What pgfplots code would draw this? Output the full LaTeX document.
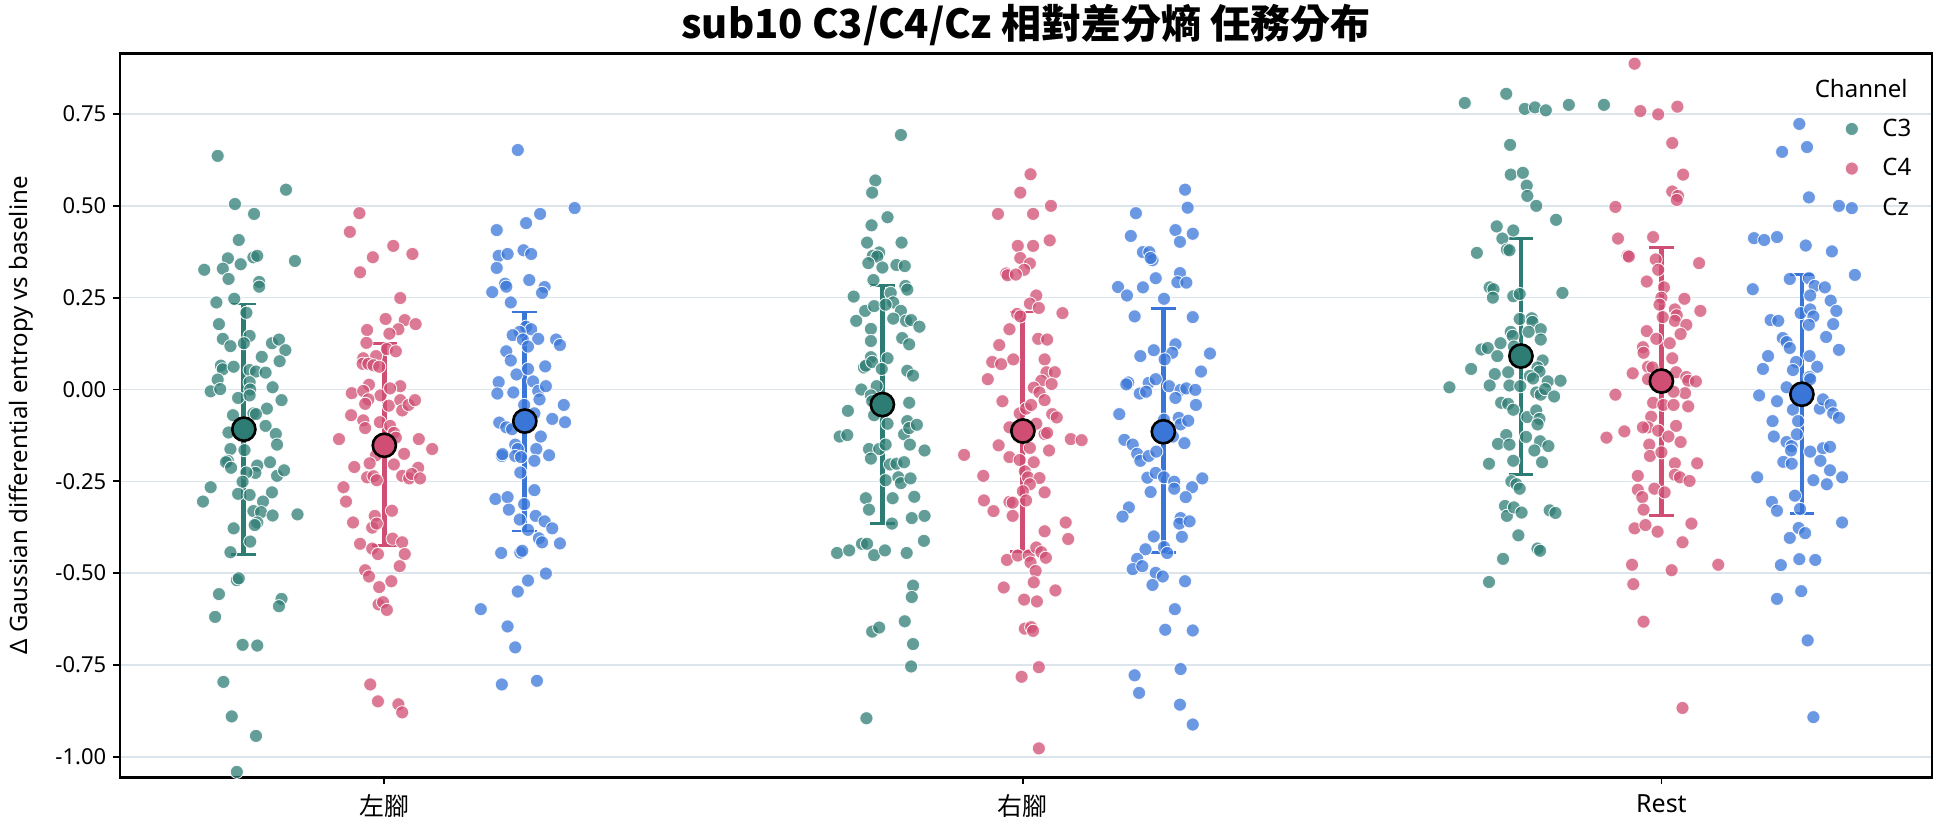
\documentclass[border=0pt]{standalone}
\usepackage{fontspec}
\setmainfont{Noto Sans}
\newfontfamily\cjk{Noto Sans CJK TC}
\usepackage{pgfplots}
\usepackage{pgfplotstable}
\pgfplotsset{compat=1.18}
\definecolor{cA}{RGB}{46,125,116}
\definecolor{cB}{RGB}{208,78,115}
\definecolor{cC}{RGB}{58,118,216}
\definecolor{gridc}{RGB}{221,229,236}
\pgfplotsset{pts/.style={only marks, mark=*, mark size=3.3pt, mark options={fill=#1, fill opacity=0.75, draw=white, draw opacity=0.9, line width=0.45pt}}}
\pgfplotsset{mn/.style={only marks, mark=*, mark size=5.8pt, mark options={fill=#1, draw=black, line width=1.3pt},
  error bars/y dir=both, error bars/y explicit, error bars/error bar style={draw=#1, line width=2.4pt}, error bars/error mark options={rotate=90, draw=#1, mark size=6.2pt, line width=1.4pt}}}

% 左腳 C3
\pgfplotstableread{
dx v
-0.041 0.636
0.066 0.544
-0.014 0.505
0.016 0.478
-0.008 0.407
-0.025 0.357
0.015 0.360
0.021 0.364
-0.062 0.326
-0.033 0.329
-0.005 0.341
0.080 0.350
-0.024 0.301
0.024 0.293
0.024 0.280
-0.043 0.237
-0.015 0.247
0.004 0.209
-0.039 0.178
-0.033 0.138
0.009 0.146
-0.021 0.118
0.000 0.126
0.044 0.126
0.055 0.136
0.065 0.107
0.028 0.089
0.056 0.077
-0.036 0.065
-0.033 0.055
-0.016 0.062
0.009 0.053
0.019 0.049
0.034 0.046
-0.041 0.027
-0.052 -0.005
-0.037 0.001
0.009 0.020
0.010 0.000
0.045 0.006
-0.009 -0.023
0.009 -0.016
0.036 -0.052
0.059 -0.029
-0.017 -0.070
0.015 -0.065
0.019 -0.067
0.034 -0.099
-0.024 -0.117
0.050 -0.121
0.052 -0.150
-0.021 -0.162
0.001 -0.165
-0.025 -0.194
-0.028 -0.198
-0.020 -0.213
0.041 -0.198
0.021 -0.207
0.018 -0.227
0.004 -0.226
0.052 -0.235
0.063 -0.220
-0.002 -0.251
-0.052 -0.266
-0.064 -0.305
-0.009 -0.284
0.009 -0.287
0.044 -0.280
0.030 -0.305
0.015 -0.331
0.027 -0.334
0.045 -0.343
0.084 -0.340
0.021 -0.362
0.017 -0.369
-0.016 -0.378
0.010 -0.414
-0.021 -0.443
-0.011 -0.519
-0.008 -0.514
-0.039 -0.557
0.059 -0.570
0.055 -0.590
-0.045 -0.619
-0.002 -0.695
0.021 -0.697
-0.032 -0.796
-0.019 -0.890
0.019 -0.943
-0.011 -1.041
}\tLA

% 左腳 C4
\pgfplotstableread{
dx v
-0.039 0.480
-0.054 0.429
0.014 0.391
-0.018 0.360
0.044 0.369
-0.038 0.319
0.025 0.249
0.002 0.192
-0.027 0.162
0.032 0.189
0.049 0.178
0.022 0.164
0.008 0.152
-0.028 0.127
0.004 0.110
0.018 0.104
-0.013 0.091
-0.033 0.085
-0.034 0.070
-0.025 0.070
-0.017 0.066
-0.008 0.062
-0.024 0.013
-0.051 -0.010
-0.033 -0.004
-0.006 -0.016
0.025 0.009
0.009 0.003
-0.025 -0.027
-0.030 -0.039
0.007 -0.044
0.025 -0.029
0.028 -0.057
0.038 -0.042
0.048 -0.029
-0.052 -0.070
-0.033 -0.084
-0.030 -0.105
-0.007 -0.089
0.009 -0.099
0.015 -0.118
0.018 -0.131
-0.071 -0.135
0.054 -0.135
0.075 -0.162
0.031 -0.175
-0.013 -0.179
-0.023 -0.201
-0.047 -0.211
0.015 -0.204
0.053 -0.213
-0.027 -0.239
-0.017 -0.236
-0.012 -0.247
0.028 -0.235
0.039 -0.242
0.043 -0.230
0.056 -0.242
-0.064 -0.266
-0.060 -0.305
-0.015 -0.344
0.012 -0.330
-0.049 -0.362
-0.019 -0.376
-0.012 -0.365
0.013 -0.406
0.028 -0.416
-0.038 -0.420
-0.019 -0.433
-0.010 -0.448
0.032 -0.448
0.024 -0.481
-0.030 -0.492
-0.024 -0.509
-0.008 -0.538
0.011 -0.522
-0.009 -0.585
-0.002 -0.579
0.004 -0.600
-0.022 -0.803
-0.010 -0.849
0.022 -0.857
0.028 -0.879
}\tLB

% 左腳 Cz
\pgfplotstableread{
dx v
-0.011 0.652
0.078 0.494
0.024 0.478
0.002 0.453
-0.044 0.434
-0.041 0.364
-0.027 0.369
-0.002 0.379
0.010 0.369
-0.044 0.331
0.007 0.298
-0.031 0.288
-0.029 0.280
0.031 0.279
0.027 0.263
-0.051 0.265
-0.022 0.237
0.002 0.171
0.010 0.164
-0.008 0.157
-0.019 0.148
0.021 0.138
0.049 0.136
0.055 0.121
-0.003 0.136
0.005 0.117
-0.029 0.104
-0.022 0.079
0.032 0.063
-0.013 0.041
0.005 0.056
-0.041 0.020
-0.043 -0.011
-0.018 -0.008
0.013 0.022
0.021 -0.004
0.033 0.009
0.023 -0.027
0.061 -0.042
-0.001 -0.042
0.015 -0.065
-0.040 -0.090
-0.029 -0.103
-0.020 -0.108
0.043 -0.080
0.063 -0.089
0.025 -0.128
-0.015 -0.150
-0.011 -0.162
0.018 -0.162
-0.036 -0.181
-0.035 -0.176
-0.015 -0.181
-0.006 -0.184
0.015 -0.194
0.038 -0.179
-0.007 -0.226
0.015 -0.274
-0.046 -0.298
-0.027 -0.293
-0.025 -0.327
-0.001 -0.312
-0.008 -0.354
0.017 -0.344
0.031 -0.359
0.005 -0.382
0.043 -0.378
0.022 -0.405
0.027 -0.416
0.055 -0.419
-0.037 -0.445
-0.007 -0.444
-0.004 -0.439
0.033 -0.501
0.005 -0.520
-0.011 -0.550
-0.069 -0.598
-0.027 -0.645
-0.015 -0.702
-0.036 -0.803
0.019 -0.793
}\tLC

% 右腳 C3
\pgfplotstableread{
dx v
0.029 0.693
-0.011 0.569
-0.016 0.536
0.008 0.469
-0.017 0.447
-0.024 0.400
0.030 0.400
-0.005 0.373
-0.015 0.364
-0.008 0.362
-0.022 0.344
0.000 0.332
0.022 0.339
0.035 0.336
-0.014 0.298
0.036 0.282
0.039 0.272
-0.045 0.253
0.013 0.263
0.017 0.237
-0.027 0.214
-0.013 0.227
0.005 0.231
0.029 0.214
-0.041 0.187
0.017 0.193
0.037 0.187
0.045 0.189
0.058 0.171
-0.018 0.165
-0.018 0.132
0.031 0.140
0.042 0.123
-0.018 0.088
-0.029 0.060
-0.026 0.065
-0.016 0.075
0.008 0.085
-0.001 0.056
0.039 0.051
0.048 0.038
-0.033 0.000
-0.009 0.009
-0.054 -0.058
-0.018 -0.016
-0.016 -0.032
-0.013 -0.070
0.042 -0.036
0.034 -0.122
0.039 -0.086
0.042 -0.105
0.054 -0.096
0.008 -0.093
-0.067 -0.128
-0.055 -0.124
-0.021 -0.162
-0.005 -0.162
0.005 -0.150
0.043 -0.150
0.066 -0.166
-0.018 -0.188
0.012 -0.204
0.022 -0.202
0.034 -0.198
0.005 -0.247
0.025 -0.239
0.029 -0.255
0.044 -0.242
-0.026 -0.296
-0.021 -0.327
0.016 -0.296
0.050 -0.292
0.015 -0.365
0.046 -0.350
0.066 -0.344
-0.032 -0.420
-0.024 -0.420
-0.071 -0.445
-0.052 -0.438
-0.013 -0.451
0.004 -0.438
0.038 -0.445
0.065 -0.412
0.048 -0.534
0.046 -0.565
0.035 -0.631
-0.016 -0.659
-0.005 -0.648
0.048 -0.693
0.045 -0.754
-0.025 -0.895
}\tRA

% 右腳 C4
\pgfplotstableread{
dx v
0.012 0.586
-0.004 0.536
-0.039 0.478
0.016 0.478
0.044 0.500
-0.008 0.391
0.016 0.391
0.042 0.406
-0.004 0.358
0.011 0.343
0.002 0.326
-0.026 0.316
-0.024 0.311
-0.011 0.313
0.021 0.256
0.011 0.234
0.025 0.222
-0.009 0.206
-0.004 0.199
0.062 0.208
-0.021 0.164
-0.037 0.121
0.024 0.138
0.038 0.136
-0.048 0.075
-0.034 0.069
-0.015 0.082
0.034 0.082
0.037 0.047
0.050 0.047
-0.055 0.028
0.029 0.024
0.045 0.015
0.017 0.005
0.026 -0.008
-0.032 -0.032
0.034 -0.029
-0.005 -0.065
0.005 -0.052
0.013 -0.042
0.046 -0.067
0.053 -0.076
-0.021 -0.103
0.021 -0.093
0.034 -0.121
0.038 -0.118
0.075 -0.135
0.092 -0.138
-0.092 -0.178
-0.038 -0.152
-0.021 -0.184
0.011 -0.159
0.041 -0.166
-0.005 -0.192
0.017 -0.198
0.003 -0.223
0.008 -0.239
0.026 -0.241
0.011 -0.258
-0.062 -0.235
0.000 -0.277
0.034 -0.280
-0.061 -0.302
-0.021 -0.306
-0.016 -0.308
0.005 -0.302
-0.046 -0.331
-0.016 -0.344
0.067 -0.362
0.034 -0.386
0.071 -0.407
-0.025 -0.464
-0.008 -0.452
0.009 -0.452
0.012 -0.471
0.021 -0.430
0.029 -0.443
0.036 -0.458
0.020 -0.494
0.017 -0.525
-0.030 -0.539
0.002 -0.572
0.022 -0.577
0.051 -0.547
0.003 -0.651
0.013 -0.647
0.016 -0.657
0.025 -0.756
-0.002 -0.782
0.025 -0.977
}\tRB

% 右腳 Cz
\pgfplotstableread{
dx v
0.034 0.544
0.038 0.495
-0.043 0.480
0.019 0.434
-0.051 0.418
0.046 0.424
0.026 0.402
-0.032 0.374
-0.022 0.374
-0.017 0.352
-0.020 0.358
0.026 0.317
-0.012 0.303
0.022 0.292
0.036 0.291
-0.071 0.279
-0.057 0.256
-0.032 0.278
0.001 0.247
-0.045 0.199
0.046 0.197
0.019 0.123
0.014 0.100
-0.015 0.107
0.002 0.082
-0.036 0.091
0.073 0.098
0.059 0.049
-0.055 0.019
-0.058 0.014
-0.023 0.018
-0.012 0.028
-0.037 -0.011
-0.027 -0.006
0.009 0.009
0.027 -0.001
0.036 0.003
0.050 -0.001
0.019 -0.023
0.051 -0.042
-0.069 -0.067
0.001 -0.082
0.024 -0.077
0.027 -0.095
0.039 -0.085
-0.061 -0.137
-0.048 -0.150
0.015 -0.128
0.033 -0.146
-0.041 -0.175
-0.036 -0.194
-0.023 -0.181
-0.011 -0.169
-0.025 -0.240
-0.012 -0.227
0.001 -0.239
0.017 -0.251
0.017 -0.270
0.045 -0.266
0.061 -0.242
-0.020 -0.279
0.035 -0.293
-0.054 -0.321
-0.064 -0.346
0.027 -0.350
0.025 -0.365
0.041 -0.359
-0.015 -0.400
0.029 -0.401
-0.028 -0.435
0.001 -0.429
0.006 -0.445
-0.041 -0.461
-0.048 -0.489
-0.033 -0.481
-0.012 -0.499
-0.001 -0.509
-0.017 -0.532
0.034 -0.522
0.018 -0.598
0.003 -0.654
0.046 -0.656
0.027 -0.761
-0.045 -0.778
-0.038 -0.826
0.026 -0.858
0.046 -0.912
}\tRC

% Rest C3
\pgfplotstableread{
dx v
-0.088 0.780
-0.023 0.805
0.006 0.764
0.022 0.768
0.039 0.760
0.075 0.775
0.130 0.775
-0.017 0.666
-0.016 0.585
0.003 0.590
0.009 0.555
0.010 0.527
0.024 0.500
0.055 0.462
-0.038 0.444
-0.012 0.433
-0.029 0.411
-0.022 0.381
-0.018 0.379
-0.069 0.372
-0.049 0.278
-0.043 0.273
-0.044 0.250
-0.012 0.254
-0.002 0.260
0.065 0.263
-0.002 0.192
0.017 0.194
0.018 0.184
0.031 0.164
0.031 0.136
-0.016 0.157
-0.013 0.146
0.012 0.157
-0.032 0.126
-0.062 0.109
-0.052 0.113
-0.037 0.091
-0.011 0.117
0.034 0.079
0.026 0.060
0.029 0.049
-0.078 0.056
-0.041 0.042
-0.020 0.047
0.014 0.037
0.019 0.030
0.042 0.022
-0.112 0.006
-0.049 0.011
-0.018 0.011
-0.001 0.009
0.024 -0.008
0.031 -0.014
0.038 0.001
0.062 0.024
0.052 -0.019
-0.031 -0.036
-0.020 -0.039
-0.012 -0.055
0.010 -0.075
0.024 -0.057
0.029 -0.080
0.026 -0.095
-0.023 -0.124
-0.036 -0.148
-0.018 -0.150
0.008 -0.129
0.030 -0.141
0.043 -0.154
0.021 -0.166
-0.050 -0.202
-0.012 -0.194
0.033 -0.198
-0.015 -0.250
-0.007 -0.258
-0.002 -0.270
-0.025 -0.317
-0.022 -0.344
-0.011 -0.321
0.001 -0.335
0.045 -0.329
0.054 -0.336
-0.004 -0.397
0.026 -0.433
0.030 -0.439
-0.028 -0.461
-0.050 -0.524
}\tSA

% Rest C4
\pgfplotstableread{
dx v
-0.042 0.887
-0.033 0.758
-0.005 0.749
0.025 0.770
0.017 0.671
0.034 0.585
0.017 0.539
0.026 0.527
0.024 0.516
-0.072 0.497
-0.068 0.411
-0.013 0.415
-0.053 0.364
-0.051 0.362
-0.009 0.354
-0.005 0.326
0.059 0.344
-0.023 0.294
0.004 0.278
0.000 0.250
0.036 0.247
0.061 0.214
-0.003 0.231
0.021 0.218
0.024 0.202
0.021 0.187
0.002 0.197
0.039 0.176
-0.023 0.159
-0.008 0.138
0.030 0.151
-0.029 0.115
-0.028 0.100
0.013 0.126
0.017 0.085
-0.021 0.062
-0.045 0.044
-0.014 0.060
-0.021 0.028
0.023 0.047
0.039 0.034
0.042 0.024
0.054 0.022
-0.072 -0.014
-0.013 -0.036
0.003 -0.042
0.019 -0.042
0.037 -0.010
0.042 -0.046
0.019 -0.006
-0.016 -0.074
-0.021 -0.103
-0.029 -0.103
0.023 -0.099
-0.005 -0.112
0.011 -0.128
-0.086 -0.131
-0.058 -0.114
0.030 -0.143
-0.019 -0.150
-0.018 -0.181
0.000 -0.171
0.021 -0.201
0.021 -0.232
0.029 -0.239
0.044 -0.249
0.056 -0.201
-0.037 -0.235
-0.037 -0.273
-0.030 -0.293
-0.011 -0.270
0.005 -0.280
-0.028 -0.327
-0.042 -0.378
-0.025 -0.369
-0.006 -0.387
0.047 -0.365
0.033 -0.416
-0.046 -0.477
0.016 -0.492
0.089 -0.477
-0.044 -0.530
-0.028 -0.632
0.033 -0.867
}\tSB

% Rest Cz
\pgfplotstableread{
dx v
-0.004 0.723
-0.031 0.647
0.008 0.660
0.011 0.523
0.058 0.500
-0.075 0.412
-0.059 0.407
-0.039 0.415
0.006 0.392
0.047 0.376
0.083 0.312
-0.077 0.273
-0.019 0.301
0.011 0.303
0.020 0.282
0.036 0.278
0.013 0.256
0.045 0.242
-0.002 0.208
0.013 0.218
0.018 0.199
0.054 0.214
-0.049 0.189
-0.037 0.187
0.011 0.176
0.049 0.178
0.038 0.143
-0.030 0.140
-0.024 0.129
-0.019 0.113
0.058 0.108
0.012 0.091
-0.053 0.091
-0.061 0.056
-0.009 0.075
-0.014 0.053
0.024 0.062
0.012 0.034
0.013 0.028
-0.024 0.006
-0.009 -0.008
-0.067 -0.016
-0.039 -0.032
-0.014 -0.055
0.028 -0.052
0.033 -0.027
0.045 -0.042
0.049 -0.065
0.058 -0.077
-0.046 -0.086
-0.006 -0.086
-0.044 -0.128
-0.024 -0.143
-0.016 -0.154
-0.017 -0.166
-0.008 -0.122
0.033 -0.160
0.044 -0.156
0.013 -0.169
-0.029 -0.197
-0.016 -0.202
0.029 -0.194
0.044 -0.220
-0.070 -0.239
0.018 -0.247
0.039 -0.258
0.063 -0.239
-0.011 -0.289
-0.047 -0.306
-0.039 -0.330
-0.003 -0.325
0.063 -0.362
-0.005 -0.377
0.005 -0.391
-0.019 -0.404
-0.033 -0.478
-0.004 -0.462
0.021 -0.464
-0.039 -0.570
-0.001 -0.549
0.009 -0.683
0.018 -0.892
}\tSC

\begin{document}
\begin{tikzpicture}
\begin{axis}[
  at={(0,0)}, anchor=south west,
  scale only axis, width=905.7pt, height=362pt,
  xmin=-0.4135, xmax=2.4233, ymin=-1.056, ymax=0.915,
  xtick={0,1,2}, xticklabels={{\cjk 左腳},{\cjk 右腳},Rest},
  ytick={-1,-0.75,-0.5,-0.25,0,0.25,0.5,0.75},
  yticklabel style={font=\fontsize{11}{13}\selectfont, /pgf/number format/.cd, fixed, fixed zerofill, precision=2, assume math mode=true},
  xticklabel style={font=\fontsize{12.5}{15}\selectfont, yshift=-1.5pt},
  tick pos=left, tick align=outside, major tick length=3.5pt,
  tick style={black, line width=0.9pt},
  axis line style={black, line width=1.1pt},
  ymajorgrids, major grid style={gridc, line width=0.7pt},
  ylabel={Δ Gaussian differential entropy vs baseline},
  ylabel style={font=\fontsize{12}{14}\selectfont, at={(axis description cs:-0.0546,0.5)}, anchor=center},
  every axis title shift=0pt,
  title={\cjk\bfseries sub10 C3/C4/Cz 相對差分熵 任務分布},
  title style={font=\fontsize{20}{24}\selectfont, at={(axis description cs:0.5,1)}, anchor=base, yshift=7.5pt},
  legend style={draw=none, fill=none, font=\fontsize{12}{14}\selectfont, at={(rel axis cs:1,1)}, anchor=north east, xshift=-5pt, yshift=-28.5pt, row sep=5.6pt, /tikz/every odd column/.append style={column sep=10pt}},
  legend cell align=left,
  clip=false,
]
\addplot[pts=cA] table[x expr=\thisrow{dx}-0.22, y=v] {\tLA};
\addlegendentry{C3}
\addplot[pts=cB] table[x expr=\thisrow{dx}, y=v] {\tLB};
\addlegendentry{C4}
\addplot[pts=cC] table[x expr=\thisrow{dx}+0.22, y=v] {\tLC};
\addlegendentry{Cz}
\addplot[forget plot, pts=cA] table[x expr=\thisrow{dx}+0.78, y=v] {\tRA};
\addplot[forget plot, pts=cB] table[x expr=\thisrow{dx}+1, y=v] {\tRB};
\addplot[forget plot, pts=cC] table[x expr=\thisrow{dx}+1.22, y=v] {\tRC};
\addplot[forget plot, pts=cA] table[x expr=\thisrow{dx}+1.78, y=v] {\tSA};
\addplot[forget plot, pts=cB] table[x expr=\thisrow{dx}+2, y=v] {\tSB};
\addplot[forget plot, pts=cC] table[x expr=\thisrow{dx}+2.22, y=v] {\tSC};
\addplot[forget plot, mn=cA] coordinates {(-0.22,-0.108) += (0,0.341) -= (0,0.342) (0.78,-0.041) += (0,0.325) -= (0,0.324) (1.78,0.091) += (0,0.320) -= (0,0.322)};
\addplot[forget plot, mn=cB] coordinates {(0,-0.152) += (0,0.278) -= (0,0.273) (1,-0.113) += (0,0.324) -= (0,0.329) (2,0.023) += (0,0.364) -= (0,0.366)};
\addplot[forget plot, mn=cC] coordinates {(0.22,-0.086) += (0,0.297) -= (0,0.299) (1.22,-0.115) += (0,0.335) -= (0,0.329) (2.22,-0.013) += (0,0.326) -= (0,0.325)};
\node[anchor=east, font=\fontsize{12}{14}\selectfont, xshift=-8.5pt, yshift=-17.5pt] at (rel axis cs:1,1) {Channel};
\end{axis}
\pgfresetboundingbox
\useasboundingbox (-60.15pt,-24.8pt) rectangle (911.85pt,388.7pt);
\end{tikzpicture}
\end{document}
